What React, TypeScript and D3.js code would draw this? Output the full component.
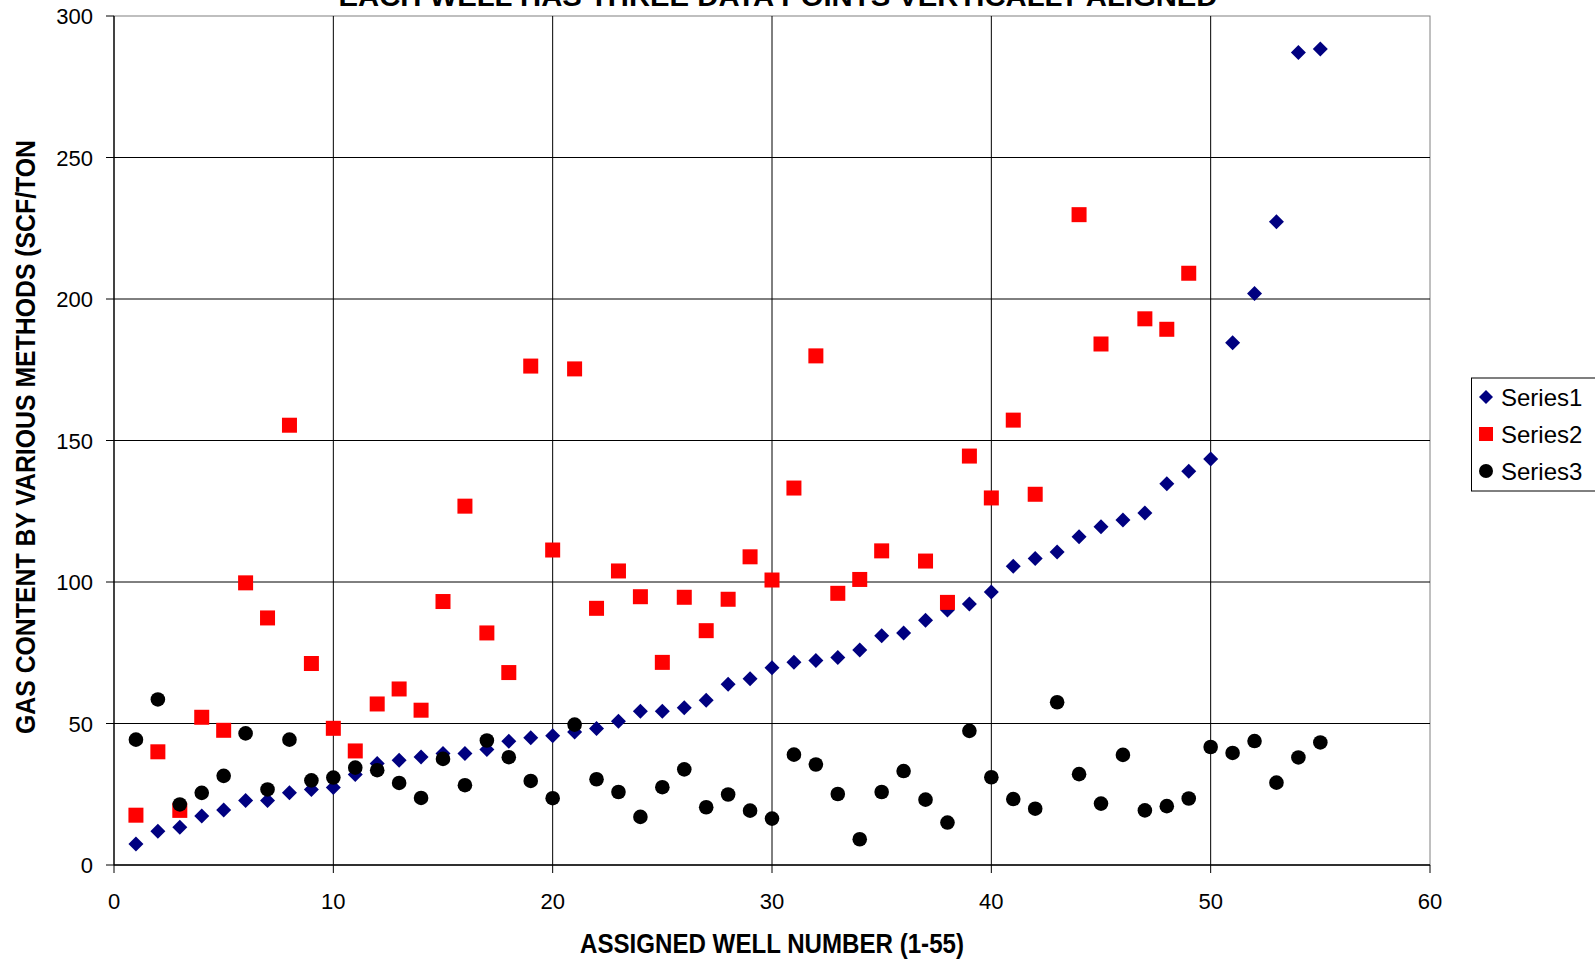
import React from "react";
import * as d3 from "d3";

const wells: number[] = d3.range(1, 56);

const series1: number[] = [
  7.4, 11.9, 13.3, 17.3, 19.4, 22.8, 22.8, 25.5, 26.7, 27.4,
  32.0, 35.9, 37.0, 38.2, 39.4, 39.4, 40.8, 43.7, 45.0, 45.7,
  47.0, 48.2, 50.8, 54.3, 54.3, 55.6, 58.2, 63.9, 65.8, 69.7,
  71.6, 72.3, 73.3, 76.0, 81.0, 82.0, 86.5, 90.1, 92.2, 96.5,
  105.6, 108.3, 110.6, 116.0, 119.5, 121.9, 124.4, 134.7, 139.1, 143.5,
  184.5, 201.9, 227.3, 287.1, 288.3,
];

const series2: (number | null)[] = [
  17.6, 40.0, 19.3, 52.2, 47.6, 99.7, 87.3, 155.4, 71.2, 48.3,
  40.3, 56.9, 62.2, 54.7, 93.1, 126.8, 82.0, 68.0, 176.3, 111.3,
  175.3, 90.7, 103.9, 94.8, 71.6, 94.6, 82.8, 93.9, 108.9, 100.7,
  133.2, 179.9, 96.0, 100.9, 111.0, null, 107.4, 92.8, 144.5, 129.7,
  157.2, 131.0, null, 229.8, 184.1, null, 193.0, 189.3, 209.1, null,
  null, null, null, null, null,
];

const series3: number[] = [
  44.3, 58.5, 21.4, 25.5, 31.5, 46.5, 26.7, 44.3, 29.9, 30.9,
  34.4, 33.5, 29.0, 23.7, 37.5, 28.2, 44.0, 38.1, 29.7, 23.6,
  49.6, 30.3, 25.8, 17.0, 27.5, 33.8, 20.4, 24.9, 19.2, 16.4,
  39.0, 35.5, 25.1, 9.1, 25.8, 33.2, 23.1, 15.0, 47.4, 31.0,
  23.3, 19.9, 57.5, 32.1, 21.7, 38.9, 19.3, 20.8, 23.5, 41.7,
  39.6, 43.8, 29.1, 38.0, 43.3,
];

const xTicks: number[] = [0, 10, 20, 30, 40, 50, 60];
const yTicks: number[] = [0, 50, 100, 150, 200, 250, 300];
const legendLabels: string[] = ["Series1", "Series2", "Series3"];

const titleText = "EACH WELL HAS THREE DATA POINTS VERTICALLY ALIGNED";
const xTitle = "ASSIGNED WELL NUMBER (1-55)";
const yTitle = "GAS CONTENT BY VARIOUS METHODS (SCF/TON";

const FONT = "'Liberation Sans', Arial, sans-serif";
const NAVY = "#000080";
const RED = "#FF0000";
const BLACK = "#000000";

const W = 1595;
const H = 960;
const L = 114;
const R = 1430;
const T = 16;
const B = 865;

export default function App() {
  const x = d3.scaleLinear().domain([0, 60]).range([L, R]);
  const y = d3.scaleLinear().domain([0, 300]).range([B, T]);

  const diamond = (cx: number, cy: number, s: number) =>
    `M${cx},${cy - s}L${cx + s},${cy}L${cx},${cy + s}L${cx - s},${cy}Z`;

  return (
    <svg
      width={W}
      height={H}
      style={{ position: "absolute", left: 0, top: 0, background: "#fff" }}
      fontFamily={FONT}
    >
      <rect x={0} y={0} width={W} height={H} fill="#fff" />
      {/* title (cut at top, as in the reference) */}
      <text
        x={778}
        y={6}
        textAnchor="middle"
        fontWeight="bold"
        fontSize={28}
        textLength={879}
        lengthAdjust="spacingAndGlyphs"
      >
        {titleText}
      </text>

      {/* plot border */}
      <rect x={L} y={T} width={R - L} height={B - T} fill="none" stroke="#808080" strokeWidth={1} />

      {/* gridlines */}
      {yTicks
        .filter((v) => v > 0 && v < 300)
        .map((v) => (
          <line key={"hy" + v} x1={L} x2={R} y1={y(v)} y2={y(v)} stroke="#000" strokeWidth={1} />
        ))}
      {xTicks
        .filter((v) => v > 0 && v < 60)
        .map((v) => (
          <line key={"vx" + v} x1={x(v)} x2={x(v)} y1={T} y2={B} stroke="#000" strokeWidth={1} />
        ))}

      {/* axes */}
      <line x1={L} x2={L} y1={T} y2={B} stroke="#000" strokeWidth={1.3} />
      <line x1={L} x2={R} y1={B} y2={B} stroke="#000" strokeWidth={1.3} />

      {/* y ticks */}
      {yTicks.map((v) => (
        <g key={"yt" + v}>
          <line x1={L - 8} x2={L} y1={y(v)} y2={y(v)} stroke="#000" />
          <text x={93} y={y(v) + 8} textAnchor="end" fontSize={22}>
            {v}
          </text>
        </g>
      ))}
      {/* x ticks */}
      {xTicks.map((v) => (
        <g key={"xt" + v}>
          <line x1={x(v)} x2={x(v)} y1={B} y2={B + 8} stroke="#000" />
          <text x={x(v)} y={909} textAnchor="middle" fontSize={22}>
            {v}
          </text>
        </g>
      ))}

      {/* axis titles */}
      <text
        x={772}
        y={953}
        textAnchor="middle"
        fontWeight="bold"
        fontSize={27}
        textLength={384}
        lengthAdjust="spacingAndGlyphs"
      >
        {xTitle}
      </text>
      <text
        transform={`translate(35,437) rotate(-90)`}
        textAnchor="middle"
        fontWeight="bold"
        fontSize={27}
        textLength={594}
        lengthAdjust="spacingAndGlyphs"
      >
        {yTitle}
      </text>

      {/* Series1 diamonds */}
      {wells.map((w, i) => (
        <path key={"s1" + w} d={diamond(x(w), y(series1[i]), 7.5)} fill={NAVY} />
      ))}
      {/* Series2 squares */}
      {wells.map((w, i) => {
        const v = series2[i];
        if (v == null) return null;
        return (
          <rect key={"s2" + w} x={x(w) - 7.5} y={y(v) - 7.5} width={15} height={15} fill={RED} />
        );
      })}
      {/* Series3 circles */}
      {wells.map((w, i) => (
        <circle key={"s3" + w} cx={x(w)} cy={y(series3[i])} r={7.3} fill={BLACK} />
      ))}

      {/* legend */}
      <rect x={1471.5} y={378} width={140} height={113} fill="#fff" stroke="#000" strokeWidth={1} />
      {legendLabels.map((lab, i) => {
        const cy = 397 + i * 37;
        const cx = 1486;
        return (
          <g key={lab}>
            {i === 0 && <path d={diamond(cx, cy, 7)} fill={NAVY} />}
            {i === 1 && <rect x={cx - 7} y={cy - 7} width={14} height={14} fill={RED} />}
            {i === 2 && <circle cx={cx} cy={cy} r={7} fill={BLACK} />}
            <text x={1501} y={cy + 8.5} fontSize={24}>
              {lab}
            </text>
          </g>
        );
      })}
    </svg>
  );
}
